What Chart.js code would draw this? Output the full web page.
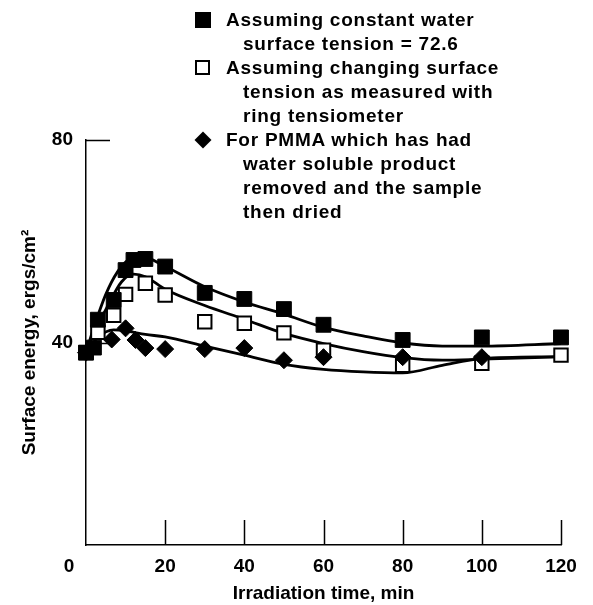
<!DOCTYPE html>
<html>
<head>
<meta charset="utf-8">
<script src="https://cdn.jsdelivr.net/npm/chart.js@4.4.0/dist/chart.umd.min.js"></script>
<style>
  html, body { margin: 0; padding: 0; background: #fff; }
  #wrap { position: relative; width: 593px; height: 605px; }
  #legend {
    position: absolute; left: 226px; top: 8px;
    font: bold 19px "Liberation Sans", Arial, sans-serif;
    line-height: 24px; color: #000; letter-spacing: 0.75px; white-space: nowrap;
  }
  #legend .in { padding-left: 17px; }
  .mk { position: absolute; box-sizing: border-box; }
</style>
</head>
<body>
<div id="wrap">
  <canvas id="chart" width="593" height="605" style="width:593px;height:605px"></canvas>
  <div class="mk" style="left:195px;top:12px;width:16px;height:16px;background:#000"></div>
  <div class="mk" style="left:195px;top:60px;width:15px;height:15px;border:2px solid #000;background:#fff"></div>
  <div class="mk" style="left:197px;top:134px;width:12px;height:12px;background:#000;transform:rotate(45deg)"></div>
  <div id="legend">
    <div>Assuming constant water</div>
    <div class="in">surface tension = 72.6</div>
    <div>Assuming changing surface</div>
    <div class="in">tension as measured with</div>
    <div class="in">ring tensiometer</div>
    <div>For PMMA which has had</div>
    <div class="in">water soluble product</div>
    <div class="in">removed and the sample</div>
    <div class="in">then dried</div>
  </div>
</div>
<script>
// measured points
var filledTimes  = [0, 2, 3, 7, 10, 12, 15, 20, 30, 40, 50, 60, 80, 100, 120];
var filledValues = [38, 39, 44.5, 48.4, 54.3, 56.3, 56.5, 55, 49.8, 48.6, 46.6, 43.5, 40.5, 41, 41];

var openTimes  = [0, 3, 7, 10, 15, 20, 30, 40, 50, 60, 80, 100, 120];
var openValues = [38, 42, 45.4, 49.5, 51.7, 49.4, 44.1, 43.8, 41.9, 38.5, 35.5, 35.9, 37.5];

var diamondTimes  = [0, 6.5, 10, 12.5, 15, 20, 30, 40, 50, 60, 80, 100];
var diamondValues = [38, 40.6, 42.8, 40.5, 38.9, 38.7, 38.7, 38.9, 36.5, 37.1, 37.1, 37.1];

// fitted curves
var filledFitTimes  = [0, 2, 5, 8, 11, 14, 20, 30, 40, 50, 60, 70, 80, 90, 100, 120];
var filledFitValues = [38, 43, 49.5, 54, 56.5, 57, 55, 51, 48, 45.6, 43, 41.3, 39.9, 39.3, 39.3, 39.8];

var openFitTimes  = [0, 2, 5, 9, 12, 15, 20, 30, 40, 50, 60, 70, 80, 90, 100, 120];
var openFitValues = [38, 42, 46.5, 52, 53.5, 53, 50.5, 47.3, 44.6, 41.8, 39.8, 38.2, 37, 36.5, 36.7, 37.2];

var diamondFitTimes  = [0, 3, 7, 10, 15, 20, 30, 40, 50, 60, 70, 80, 90, 100, 120];
var diamondFitValues = [38, 41, 42.5, 42.3, 41.6, 41.1, 39.3, 37.5, 35.7, 34.7, 34.2, 34.0, 35.5, 36.8, 37.2];

var xTicks = [0, 20, 40, 60, 80, 100, 120];
var yTicks = [0, 40, 80];

var FONT = '"Liberation Sans", Arial, sans-serif';

function pts(xs, ys) {
    return xs.map(function (x, i) { return {x: x, y: ys[i]}; });
}

function fitLine(xs, ys) {
    return {
        data: pts(xs, ys),
        showLine: true,
        borderColor: '#000',
        borderWidth: 2.8,
        pointRadius: 0,
        cubicInterpolationMode: 'monotone',
        fill: false,
        clip: false,
        order: 10
    };
}

// ticks point inward in the original
var inwardTicks = {
    id: 'inwardTicks',
    beforeDatasetsDraw: function (chart) {
        var ctx = chart.ctx, sx = chart.scales.x, sy = chart.scales.y;
        ctx.save();
        ctx.strokeStyle = '#000';
        ctx.lineWidth = 1.5;
        ctx.beginPath();
        xTicks.forEach(function (t) {
            if (t === 0) return;
            var px = Math.round(sx.getPixelForValue(t)) + 0.5;
            ctx.moveTo(px, sy.bottom);
            ctx.lineTo(px, sy.bottom - 25);
        });
        yTicks.forEach(function (t) {
            if (t === 0) return;
            var py = Math.round(sy.getPixelForValue(t)) + 0.5;
            ctx.moveTo(sx.left, py);
            ctx.lineTo(sx.left + 24, py);
        });
        ctx.stroke();
        // origin label sits left of the axis
        ctx.fillStyle = '#000';
        ctx.font = 'bold 19px ' + FONT;
        ctx.textAlign = 'center';
        ctx.textBaseline = 'middle';
        ctx.fillText('0', sx.getPixelForValue(0) - 17, sy.bottom + 21.5);
        ctx.restore();
    }
};

var chart = new Chart(document.getElementById('chart').getContext('2d'), {
    type: 'scatter',
    data: {
        datasets: [
            {
                data: pts(diamondTimes, diamondValues),
                pointStyle: 'rectRot',
                pointRadius: 8.5,
                backgroundColor: '#000',
                borderColor: '#000',
                borderWidth: 1,
                clip: false,
                order: 1
            },
            {
                data: pts(filledTimes, filledValues),
                pointStyle: 'rect',
                pointRadius: 10.5,
                backgroundColor: '#000',
                borderColor: '#000',
                borderWidth: 1,
                clip: false,
                order: 2
            },
            {
                data: pts(openTimes, openValues),
                pointStyle: 'rect',
                pointRadius: 9.5,
                backgroundColor: '#fff',
                borderColor: '#000',
                borderWidth: 2,
                clip: false,
                order: 3
            },
            fitLine(filledFitTimes, filledFitValues),
            fitLine(openFitTimes, openFitValues),
            fitLine(diamondFitTimes, diamondFitValues)
        ]
    },
    options: {
        responsive: false,
        animation: false,
        events: [],
        layout: {padding: {top: 140, right: 32, left: 0, bottom: 0}},
        plugins: {legend: {display: false}, tooltip: {enabled: false}},
        scales: {
            x: {
                type: 'linear',
                min: 0,
                max: 120,
                afterFit: function (s) { s.height = 60; },
                afterBuildTicks: function (s) { s.ticks = xTicks.map(function (v) { return {value: v}; }); },
                grid: {display: false},
                border: {display: true, color: '#000', width: 1.5},
                ticks: {
                    color: '#000',
                    padding: 2,
                    maxRotation: 0,
                    font: {family: FONT, size: 19, weight: 'bold'},
                    callback: function (v) { return v === 0 ? '' : v; }
                },
                title: {
                    display: true,
                    text: 'Irradiation time, min',
                    color: '#000',
                    font: {family: FONT, size: 19, weight: 'bold'},
                    padding: {top: 0, bottom: 0}
                }
            },
            y: {
                min: 0,
                max: 80,
                afterFit: function (s) { s.width = 86; },
                afterBuildTicks: function (s) { s.ticks = yTicks.map(function (v) { return {value: v}; }); },
                grid: {display: false},
                border: {display: true, color: '#000', width: 1.5},
                ticks: {
                    color: '#000',
                    padding: 5,
                    font: {family: FONT, size: 19, weight: 'bold'},
                    callback: function (v) { return v === 0 ? '' : v; }
                },
                title: {
                    display: true,
                    text: 'Surface energy, ergs/cm²',
                    color: '#000',
                    font: {family: FONT, size: 19, weight: 'bold'},
                    padding: {top: 18, bottom: 0}
                }
            }
        }
    },
    plugins: [inwardTicks]
});
</script>
</body>
</html>
